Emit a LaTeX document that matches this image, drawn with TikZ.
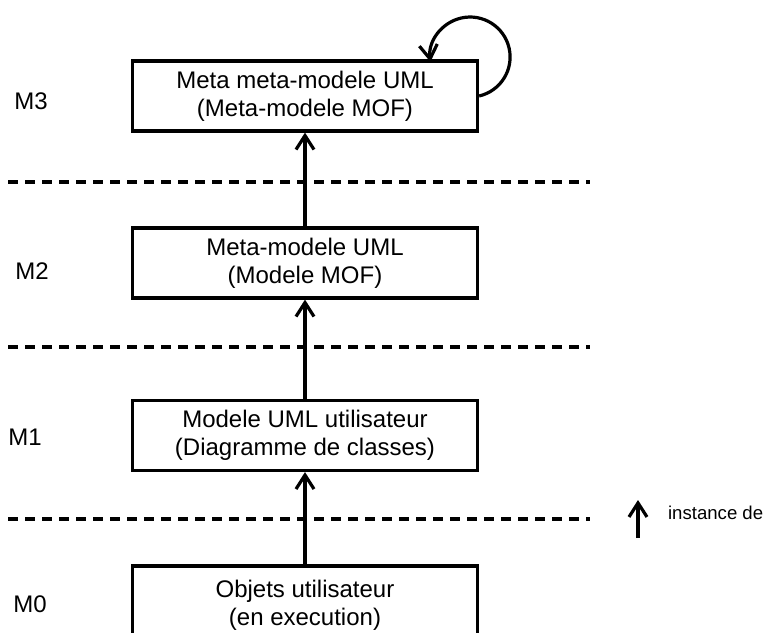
\documentclass[tikz,border=0pt]{standalone}
\usepackage{fontspec}
\setmainfont{Liberation Sans}
\usetikzlibrary{arrows.meta}
\tikzset{
    modelbox/.style={draw, line width=1.6pt, minimum width=172.5pt, minimum height=35pt, inner sep=0pt, align=center, font=\fontsize{12}{14}\selectfont},
    levelname/.style={font=\fontsize{12}{14}\selectfont},
    levelsep/.style={line width=1.6pt, dash pattern=on 5pt off 3.5pt},
    inst/.style={line width=1.6pt, -{Straight Barb[length=7pt, width=9pt]}},
}
\begin{document}
\begin{tikzpicture}[x=0.5pt, y=0.5pt]
    \useasboundingbox (0,0) rectangle (765,632);
    \node[levelname] (m3) at (31,531) {M3};
    \node[levelname] (m2) at (32,361) {M2};
    \node[levelname] (m1) at (25,195) {M1};
    \node[levelname] (m0) at (30,28) {M0};
    \foreach \y in {450,285,113}
        \draw[levelsep] (8,\y) -- (590,\y);
    \node[modelbox] (mmuml) at (305,536) {Meta meta-modele UML\\(Meta-modele MOF)};
    \node[modelbox] (muml) at (305,369) {Meta-modele UML\\(Modele MOF)};
    \node[modelbox] (uml) at (305,196.5) {Modele UML utilisateur\\(Diagramme de classes)};
    \node[modelbox, minimum height=39pt] (obj) at (305,27) {Objets utilisateur\\(en execution)};
    \draw[inst] (obj.north) -- (uml.south);
    \draw[inst] (uml.north) -- (muml.south);
    \draw[inst] (muml.north) -- (mmuml.south);
    \draw[inst] (mmuml.east) arc[start angle=-77, end angle=187, radius=40];
    % legend
    \coordinate (legfoot) at (638,94);
    \coordinate (leghead) at (638,132);
    \draw[inst] (legfoot) -- (leghead);
    \node[anchor=west, font=\fontsize{9.3}{11}\selectfont] (legtext) at (661,119) {instance de};
\end{tikzpicture}
\end{document}
